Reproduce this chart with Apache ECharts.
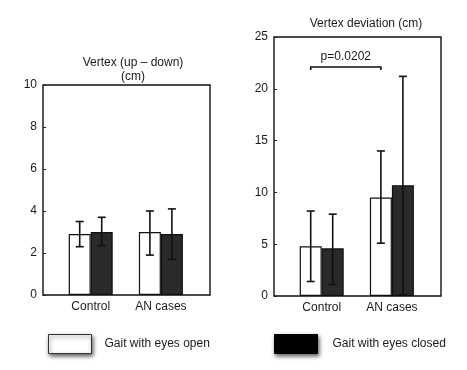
<!DOCTYPE html>
<html><head><meta charset="utf-8">
<script src="https://cdn.jsdelivr.net/npm/echarts@6/dist/echarts.min.js"></script>
<style>html,body{margin:0;padding:0;background:#fff}#c{width:467px;height:370px}</style>
</head><body><div id="c"></div>
<script>
var categories = ['Control', 'AN cases'];
var seriesNames = ['Gait with eyes open', 'Gait with eyes closed'];
// Left panel: Vertex (up - down) (cm)
var upDownOpen = [2.9, 3.0];
var upDownOpenLow = [2.3, 1.9];
var upDownOpenHigh = [3.5, 4.0];
var upDownClosed = [3.0, 2.9];
var upDownClosedLow = [2.35, 1.7];
var upDownClosedHigh = [3.7, 4.1];
// Right panel: Vertex deviation (cm)
var devOpen = [4.8, 9.5];
var devOpenLow = [1.4, 5.1];
var devOpenHigh = [8.2, 14.0];
var devClosed = [4.6, 10.7];
var devClosedLow = [1.1, 0.1];
var devClosedHigh = [7.9, 21.2];
var leftTicks = [0, 2, 4, 6, 8, 10];
var rightTicks = [0, 5, 10, 15, 20, 25];
var pLabel = 'p=0.0202';
var pBracketLevel = 22.1;

var FONT = 'Liberation Sans';
var TXT = '#1a1a1a';
var chart = echarts.init(document.getElementById('c'));

function pts(vals) { return vals.map(function (v, i) { return [i, v]; }); }
function errData(low, high) { return low.map(function (l, i) { return [i, l, high[i]]; }); }
function errSeries(idx, data, offset) {
  return {
    type: 'custom', xAxisIndex: idx, yAxisIndex: idx, data: data, silent: true, z: 5,
    renderItem: function (params, api) {
      var lo = api.coord([api.value(0), api.value(1)]);
      var hi = api.coord([api.value(0), api.value(2)]);
      var x = lo[0] + offset;
      var st = { stroke: '#111', lineWidth: 1.6 };
      return { type: 'group', children: [
        { type: 'line', shape: { x1: x, y1: lo[1], x2: x, y2: hi[1] }, style: st },
        { type: 'line', shape: { x1: x - 4, y1: lo[1], x2: x + 4, y2: lo[1] }, style: st },
        { type: 'line', shape: { x1: x - 4, y1: hi[1], x2: x + 4, y2: hi[1] }, style: st }
      ] };
    }
  };
}
function xAxisCfg(idx) {
  return {
    gridIndex: idx, type: 'value', min: -0.68, max: 1.7,
    splitLine: { show: false },
    axisLine: { show: false, onZero: false },
    axisTick: { show: false },
    axisLabel: { customValues: [0, 1], margin: 6, fontFamily: FONT, fontSize: 12, color: TXT,
      formatter: function (v) { return categories[Math.round(v)] || ''; } }
  };
}
function yAxisCfg(idx, ticks) {
  return {
    gridIndex: idx, type: 'value', min: ticks[0], max: ticks[ticks.length - 1],
    interval: ticks[1] - ticks[0], position: 'left',
    splitLine: { show: false },
    axisLine: { show: false, onZero: false },
    axisTick: { show: true, inside: true, length: 3, lineStyle: { color: '#222', width: 1 } },
    axisLabel: { margin: 6, fontFamily: FONT, fontSize: 12, color: TXT }
  };
}
var openStyle = { color: '#ffffff', borderColor: '#111', borderWidth: 1.2 };
var closedStyle = { color: '#2a2a2a', borderColor: '#111', borderWidth: 1.2 };

chart.setOption({
  animation: false,
  backgroundColor: '#fff',
  title: [
    { text: 'Vertex (up – down)\n(cm)', left: 128, top: 51, textAlign: 'center',
      textStyle: { fontFamily: FONT, fontSize: 12, fontWeight: 'normal', color: TXT, lineHeight: 14 } },
    { text: 'Vertex deviation (cm)', left: 361, top: 13, textAlign: 'center',
      textStyle: { fontFamily: FONT, fontSize: 12, fontWeight: 'normal', color: TXT } }
  ],
  grid: [
    { left: 43, top: 85, width: 167, height: 210, show: true, borderColor: '#111', borderWidth: 1.4, backgroundColor: 'transparent' },
    { left: 274, top: 37, width: 167, height: 259, show: true, borderColor: '#111', borderWidth: 1.4, backgroundColor: 'transparent' }
  ],
  xAxis: [xAxisCfg(0), xAxisCfg(1)],
  yAxis: [yAxisCfg(0, leftTicks), yAxisCfg(1, rightTicks)],
  legend: [
    { data: [{ name: seriesNames[0], itemStyle: { color: '#fff', borderColor: '#333', borderWidth: 1, shadowBlur: 4, shadowOffsetY: 2, shadowOffsetX: 1, shadowColor: 'rgba(0,0,0,0.6)' } }],
      left: 43, top: 329, icon: 'rect', itemWidth: 43, itemHeight: 19,
      textStyle: { fontFamily: FONT, fontSize: 12, color: TXT, padding: [0, 0, 0, 8] } },
    { data: [{ name: seriesNames[1], itemStyle: { color: '#000', borderColor: '#000', borderWidth: 1, shadowBlur: 4, shadowOffsetY: 2, shadowOffsetX: 1, shadowColor: 'rgba(0,0,0,0.6)' } }],
      left: 269, top: 329, icon: 'rect', itemWidth: 43, itemHeight: 19,
      textStyle: { fontFamily: FONT, fontSize: 12, color: TXT, padding: [0, 0, 0, 10] } }
  ],
  series: [
    { name: seriesNames[0], type: 'bar', xAxisIndex: 0, yAxisIndex: 0, data: pts(upDownOpen), barWidth: 22, barGap: '0%', itemStyle: openStyle },
    { name: seriesNames[1], type: 'bar', xAxisIndex: 0, yAxisIndex: 0, data: pts(upDownClosed), barWidth: 22, barGap: '0%', itemStyle: closedStyle },
    { name: seriesNames[0], type: 'bar', xAxisIndex: 1, yAxisIndex: 1, data: pts(devOpen), barWidth: 22, barGap: '0%', itemStyle: openStyle },
    { name: seriesNames[1], type: 'bar', xAxisIndex: 1, yAxisIndex: 1, data: pts(devClosed), barWidth: 22, barGap: '0%', itemStyle: closedStyle },
    errSeries(0, errData(upDownOpenLow, upDownOpenHigh), -11),
    errSeries(0, errData(upDownClosedLow, upDownClosedHigh), 11),
    errSeries(1, errData(devOpenLow, devOpenHigh), -11),
    errSeries(1, errData(devClosedLow, devClosedHigh), 11),
    {
      type: 'custom', xAxisIndex: 1, yAxisIndex: 1, silent: true, z: 6,
      data: [[0, 1, pBracketLevel]],
      renderItem: function (params, api) {
        var a = api.coord([api.value(0), api.value(2)]);
        var b = api.coord([api.value(1), api.value(2)]);
        var x1 = a[0] - 11, x2 = b[0] - 11, y = a[1];
        return { type: 'group', children: [
          { type: 'polyline', shape: { points: [[x1, y + 3], [x1, y], [x2, y], [x2, y + 3]] },
            style: { stroke: '#111', lineWidth: 1.6, fill: null } },
          { type: 'text', x: (x1 + x2) / 2, y: y - 10,
            style: { text: pLabel, textAlign: 'center', textVerticalAlign: 'middle', font: '12px ' + FONT, fill: TXT } }
        ] };
      }
    }
  ]
});
</script></body></html>
